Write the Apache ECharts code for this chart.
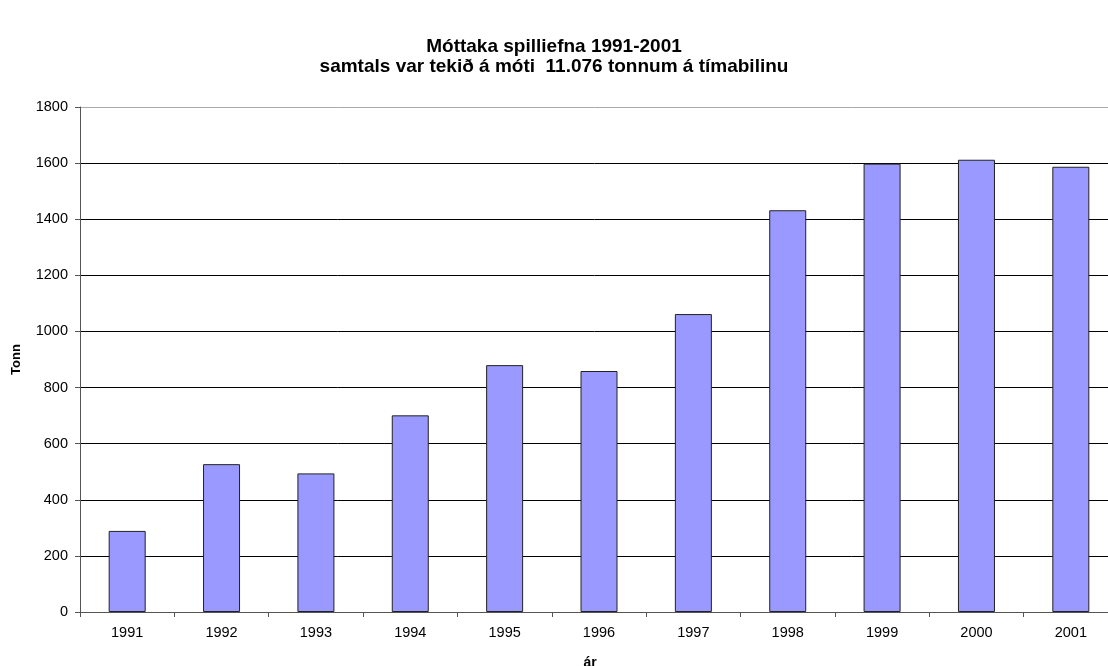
<!DOCTYPE html>
<html>
<head>
<meta charset="utf-8">
<script src="https://cdn.jsdelivr.net/npm/echarts@6/dist/echarts.min.js"></script>
<style>
  html, body { margin: 0; padding: 0; background: #fff; }
  #chart { width: 1108px; height: 666px; }
</style>
</head>
<body>
<div id="chart"></div>
<script>
// gögn lesin af myndinni
var years = ['1991', '1992', '1993', '1994', '1995', '1996', '1997', '1998', '1999', '2000', '2001'];
var tonn = [289, 527, 494, 701, 880, 859, 1062, 1432, 1598, 1612, 1587];
var titleLines = ['Móttaka spilliefna 1991-2001', 'samtals var tekið á móti  11.076 tonnum á tímabilinu'];

var font = '"Liberation Sans", Arial, sans-serif';
var gridColors = ['#000', '#000', '#000', '#000', '#000', '#000', '#000', '#000', '#000', '#aaa'];

var myChart = echarts.init(document.getElementById('chart'));
myChart.setOption({
    backgroundColor: '#fff',
    animation: false,
    title: {
        text: titleLines.join('\n'),
        left: 'center',
        top: 32,
        textStyle: {
            fontFamily: font,
            fontSize: 19,
            fontWeight: 'bold',
            color: '#000',
            lineHeight: 20
        }
    },
    grid: { left: 80, right: -10, top: 107, bottom: 54, containLabel: false, outerBoundsMode: 'none' },
    xAxis: {
        type: 'category',
        data: years,
        name: 'ár',
        nameLocation: 'middle',
        nameGap: 44,
        nameTextStyle: { fontFamily: font, fontSize: 14, fontWeight: 'bold', color: '#000', padding: [0, 18, 0, 0] },
        axisLine: { lineStyle: { color: '#555', width: 1 } },
        axisTick: { show: true, length: 5, lineStyle: { color: '#555' } },
        axisLabel: { fontFamily: font, fontSize: 14.5, color: '#000', margin: 13 }
    },
    yAxis: {
        type: 'value',
        min: 0,
        max: 1800,
        interval: 200,
        name: 'Tonn',
        nameLocation: 'middle',
        nameGap: 57,
        nameTextStyle: { fontFamily: font, fontSize: 13, fontWeight: 'bold', color: '#000' },
        axisLine: { show: true, lineStyle: { color: '#555', width: 1 } },
        axisTick: { show: true, length: 5, lineStyle: { color: '#555' } },
        axisLabel: {
            fontFamily: font, fontSize: 14.5, color: '#000', margin: 12,
            formatter: function (v) { return String(v); }
        },
        splitLine: { show: true, lineStyle: { color: gridColors, width: 1 } }
    },
    series: [{
        type: 'bar',
        data: tonn,
        barWidth: 37,
        itemStyle: {
            color: '#9999ff',
            borderColor: '#222',
            borderWidth: 1
        }
    }]
});
</script>
</body>
</html>
